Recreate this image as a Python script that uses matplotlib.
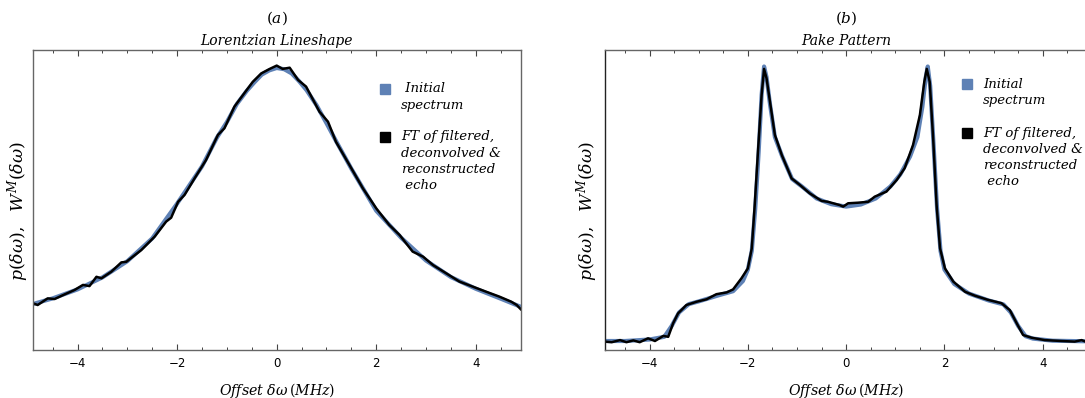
import numpy as np
import matplotlib
matplotlib.use("Agg")
import matplotlib.pyplot as plt
from matplotlib.ticker import MultipleLocator, FixedLocator

plt.rcParams['mathtext.fontset'] = 'dejavuserif'

BLUE = '#5E81B5'

# --- (a) Lorentzian lineshape -------------------------------------------
lor_x = [-4.9, -4.8, -4.6, -4.46, -4.29, -4.06, -3.89, -3.76, -3.62, -3.52, -3.32, -3.12,
         -3.02, -2.72, -2.45, -2.22, -2.12, -1.98, -1.85, -1.65, -1.42, -1.18, -1.05, -0.85,
         -0.65, -0.48, -0.31, -0.14, 0.0, 0.12, 0.26, 0.43, 0.59, 0.86, 1.03, 1.19, 1.46,
         1.73, 2.0, 2.26, 2.47, 2.73, 2.94, 3.14, 3.4, 3.67, 3.94, 4.21, 4.47, 4.71, 4.82, 4.9]
lor_fit = [15.6, 15.0, 17.2, 17.0, 18.3, 20.0, 21.7, 21.3, 24.4, 23.9, 26.1, 29.2,
           29.4, 33.3, 37.8, 42.8, 44.1, 49.4, 51.7, 57.2, 63.3, 71.7, 73.9, 81.1,
           85.6, 89.4, 92.2, 93.7, 94.8, 93.7, 94.1, 90.0, 87.8, 79.4, 76.1, 69.4, 61.7,
           53.9, 47.2, 41.7, 38.3, 32.8, 31.1, 28.3, 25.6, 22.8, 21.1, 19.4, 17.8, 16.1, 15.0, 13.6]

lor_raw_x = [-4.9, -4.5, -4.0, -3.5, -3.0, -2.5, -2.0, -1.5, -1.2, -1.0, -0.8, -0.6, -0.45,
             -0.3, -0.15, 0.0, 0.15, 0.3, 0.45, 0.6, 0.8, 1.0, 1.2, 1.5, 2.0, 2.5, 3.0,
             3.5, 4.0, 4.5, 4.9]
lor_raw = [15.3, 17.2, 20.2, 24.2, 29.6, 37.2, 48.8, 61.2, 70.8, 76.0, 82.0, 86.4, 89.2,
           91.8, 93.2, 94.0, 93.6, 92.2, 89.6, 86.6, 81.6, 75.6, 69.4, 60.4, 46.4, 37.4,
           29.8, 24.3, 20.4, 17.1, 14.4]

# --- (b) Pake pattern -------------------------------------------------
pake_x = [-4.91, -4.77, -4.6, -4.47, -4.33, -4.2, -4.03, -3.89, -3.72, -3.62, -3.52, -3.42,
          -3.25, -3.04, -2.84, -2.64, -2.43, -2.3, -2.13, -2.0, -1.92, -1.86, -1.79, -1.72,
          -1.67, -1.62, -1.55, -1.45, -1.31, -1.11, -0.94, -0.74, -0.5, -0.37, -0.13, -0.06,
          0.04, 0.24, 0.45, 0.58, 0.82, 1.03, 1.19, 1.36, 1.5, 1.59, 1.64, 1.70, 1.77, 1.84,
          1.91, 2.01, 2.18, 2.42, 2.62, 2.89, 3.16, 3.33, 3.47, 3.6, 3.77, 4.04, 4.38, 4.65,
          4.79, 4.9]
pake_fit = [2.8, 2.6, 3.3, 2.6, 3.2, 2.6, 3.9, 3.0, 4.7, 4.4, 8.9, 12.2,
            15.0, 16.1, 16.9, 18.6, 19.2, 20.2, 23.9, 27.2, 33.9, 48.3, 67.2, 85.0,
            93.7, 90.6, 82.8, 71.7, 65.0, 57.2, 55.0, 52.2, 49.7, 49.4, 48.3, 47.8,
            48.9, 49.1, 49.4, 51.1, 52.8, 56.7, 60.6, 68.3, 78.3, 89.4, 93.7, 89.4, 70.6, 48.3,
            33.9, 27.2, 22.8, 19.4, 18.1, 16.7, 15.6, 13.3, 8.9, 5.0, 4.1, 3.3, 3.0, 2.8,
            3.3, 2.6]

pake_raw_x = [-4.9, -4.5, -4.0, -3.7, -3.55, -3.4, -3.2, -3.0, -2.6, -2.3, -2.1, -2.0, -1.92,
              -1.85, -1.78, -1.72, -1.67, -1.62, -1.55, -1.45, -1.3, -1.1, -0.9, -0.6, -0.3,
              0.0, 0.3, 0.6, 0.9, 1.1, 1.3, 1.45, 1.55, 1.62, 1.66, 1.71, 1.78, 1.85, 1.92,
              2.0, 2.2, 2.5, 2.9, 3.2, 3.35, 3.5, 3.65, 3.8, 4.2, 4.9]
pake_raw = [3.0, 3.0, 3.5, 4.4, 8.0, 12.5, 15.3, 16.2, 18.2, 19.6, 23.0, 26.8, 33.0,
            47.0, 66.0, 85.0, 94.5, 91.0, 82.0, 71.0, 64.5, 57.0, 54.5, 50.5, 48.6,
            47.8, 48.5, 50.5, 54.5, 58.5, 64.5, 71.0, 81.0, 91.0, 94.5, 88.0, 68.0, 47.0, 33.0,
            26.8, 22.0, 18.8, 16.5, 15.2, 12.5, 8.0, 4.6, 3.8, 3.1, 2.9]

major_ticks = [-4, -2, 0, 2, 4]
tick_labels = ['\u22124', '\u22122', '0', '2', '4']

legend_a = [(" Initial", "spectrum"),
            ("FT of filtered,", "deconvolved &", "reconstructed", " echo")]
legend_b = [("Initial", "spectrum"),
            ("FT of filtered,", "deconvolved &", "reconstructed", " echo")]

fig = plt.figure(figsize=(10.85, 3.98), dpi=100)

W, H = 1085.0, 398.0


def px_axes(left, right, top=50, bottom=350):
    return fig.add_axes([left / W, 1 - bottom / H, (right - left) / W, (bottom - top) / H])


serif = dict(family='DejaVu Serif', style='italic', fontsize=9.5)


def setup(ax, letter, title, leg, leg_x, leg_y, ylab_x):
    ax.set_xlim(-4.9, 4.9)
    ax.set_ylim(0, 100)
    ax.xaxis.set_major_locator(FixedLocator(major_ticks))
    ax.set_xticklabels(tick_labels, fontsize=8.5, family='DejaVu Sans')
    ax.xaxis.set_minor_locator(MultipleLocator(0.5))
    ax.tick_params(axis='x', which='both', direction='in', top=True, pad=5, color='#444444')
    ax.tick_params(axis='x', which='major', length=4.5, width=0.8)
    ax.tick_params(axis='x', which='minor', length=2.5, width=0.7)
    ax.set_yticks([])
    for s in ax.spines.values():
        s.set_color('#666666')
        s.set_linewidth(1.0)
    ax.set_xlabel(r'$\mathit{Offset}\ \delta\omega\,(\mathit{MHz})$', fontsize=10.2, labelpad=8)
    ax.set_ylabel(r'$p(\delta\omega),\ \ W^{M}(\delta\omega)$', fontsize=12.5)
    ax.yaxis.set_label_coords(ylab_x, 0.462)
    ax.text(0.5, 1.105, r'$(' + letter + r')$', transform=ax.transAxes,
            ha='center', va='center', fontsize=11)
    ax.text(0.5, 1.03, title, transform=ax.transAxes, ha='center', va='center',
            family='DejaVu Serif', style='italic', fontsize=10)

    # hand-placed legend (square marker + wrapped text)
    inv = ax.transAxes.inverted()

    def to_ax(px, py):
        # pixel position in the figure -> axes fraction
        disp = fig.transFigure.transform((px / W, 1 - py / H))
        return inv.transform(disp)

    for color, lines, y0 in [(BLUE, leg[0], leg_y[0]), ('black', leg[1], leg_y[1])]:
        cx, cy = to_ax(leg_x[0], y0)
        ax.plot([cx], [cy], marker='s', ms=7.5, color=color, transform=ax.transAxes,
                clip_on=False, ls='none')
        for i, line in enumerate(lines):
            lx, ly = to_ax(leg_x[1], y0 + i * 16.2)
            ax.text(lx, ly, line, transform=ax.transAxes, ha='left', va='center', **serif)


ax_a = px_axes(32.7, 520.7)
ax_a.plot(lor_raw_x, lor_raw, color=BLUE, lw=3.0, solid_joinstyle='round')
ax_a.plot(lor_x, lor_fit, color='black', lw=1.8, solid_joinstyle='round')
setup(ax_a, 'a', 'Lorentzian Lineshape', legend_a, (385, 401), (89, 137), -0.004)

ax_b = px_axes(605.3, 1087.0)
ax_b.plot(pake_raw_x, pake_raw, color=BLUE, lw=3.0, solid_joinstyle='round')
ax_b.plot(pake_x, pake_fit, color='black', lw=1.8, solid_joinstyle='round')
setup(ax_b, 'b', 'Pake Pattern', legend_b, (967, 983), (84, 133), -0.012)
ax_b.spines['left'].set_color('#222222')

fig.savefig('out.png', dpi=100)
